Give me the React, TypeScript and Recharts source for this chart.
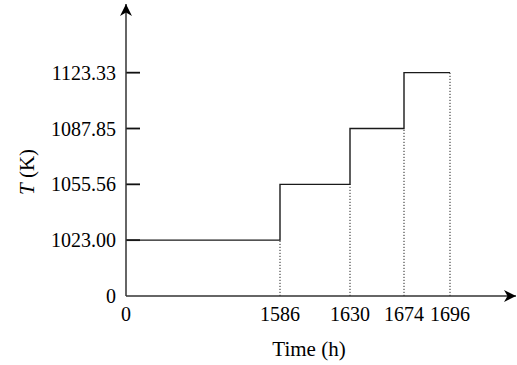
import { LineChart, Line, XAxis, YAxis, ReferenceLine } from 'recharts'

// step times (h) and the temperature held on each step (K)
const stepTimes = [0, 1586, 1630, 1674, 1696]
const stepTemperatures = [1023.0, 1055.56, 1087.85, 1123.33]

// the source figure is schematic: time ticks are not drawn to scale,
// so each time gets its own slot along the axis
const timeSlots = [0, 154, 224, 278, 324]
const X_MAX = 390
const INNER_TICK = 14 // inward y tick length, in slot units

const FONT = '"Liberation Serif", "Times New Roman", serif'
const AXIS = '#333'

// level 0 is the axis origin, level i is the i-th temperature
const steps = timeSlots.map((slot, i) => ({
  slot,
  time: stepTimes[i],
  level: Math.min(i + 1, stepTemperatures.length),
}))

const yLevels = [0, ...stepTemperatures.map((_, i) => i + 1)]
const yLabel = (v: number) => (v === 0 ? '0' : stepTemperatures[v - 1].toFixed(2))
const xLabel = (v: number) => String(stepTimes[timeSlots.indexOf(v)] ?? '')

export default function App() {
  return (
    <div style={{ position: 'absolute', left: 0, top: 0, background: '#fff' }}>
      <LineChart
        width={517}
        height={365}
        data={steps}
        margin={{ top: 4, right: 1, bottom: 0, left: 0 }}
        style={{ fontFamily: FONT }}
      >
        <defs>
          <marker
            id="arrowHead"
            viewBox="0 0 12 12"
            refX="12"
            refY="6"
            markerWidth="12"
            markerHeight="12"
            markerUnits="userSpaceOnUse"
            orient="auto-start-reverse"
          >
            <path d="M0,0 L12,6 L0,12 L3.5,6 z" fill="#000" />
          </marker>
        </defs>
        <XAxis
          type="number"
          dataKey="slot"
          domain={[0, X_MAX]}
          ticks={timeSlots}
          tickFormatter={xLabel}
          height={69}
          tickLine={false}
          tickSize={0}
          tickMargin={11}
          axisLine={{ stroke: AXIS, strokeWidth: 1.5, markerEnd: 'url(#arrowHead)' }}
          tick={{ fontSize: 20, fill: '#000', fontFamily: FONT }}
          label={{
            content: ({ viewBox }: any) => (
              <text
                x={viewBox.x + 183}
                y={viewBox.y + 60}
                textAnchor="middle"
                fontSize={21}
                fontFamily={FONT}
                fill="#000"
              >
                Time (h)
              </text>
            ),
          }}
        />
        <YAxis
          type="number"
          domain={[0, 5.23]}
          ticks={yLevels}
          tickFormatter={yLabel}
          width={126}
          tickSize={0}
          tickMargin={10}
          tickLine={false}
          axisLine={{ stroke: AXIS, strokeWidth: 1.5, markerStart: 'url(#arrowHead)' }}
          tick={{ fontSize: 20, fill: '#000', fontFamily: FONT }}
          label={{
            content: ({ viewBox }: any) => {
              const cx = viewBox.x + 27
              const cy = viewBox.y + viewBox.height / 2 + 22
              return (
                <text
                  x={cx}
                  y={cy}
                  transform={`rotate(-90 ${cx} ${cy})`}
                  textAnchor="middle"
                  dominantBaseline="central"
                  fontSize={21}
                  fontFamily={FONT}
                  fill="#000"
                >
                  <tspan fontStyle="italic">T</tspan> (K)
                </text>
              )
            },
          }}
        />
        {steps.slice(1).map((s, i) => (
          <ReferenceLine
            key={s.time}
            segment={[
              { x: s.slot, y: 0 },
              { x: s.slot, y: i + 1 },
            ]}
            stroke="#222"
            strokeWidth={1}
            strokeDasharray="1.2 1.8"
          />
        ))}
        {yLevels.slice(1).map((lvl) => (
          <ReferenceLine
            key={`ytick-${lvl}`}
            segment={[
              { x: 0, y: lvl },
              { x: INNER_TICK, y: lvl },
            ]}
            stroke="#111"
            strokeWidth={1.8}
            ifOverflow="visible"
          />
        ))}
        <Line
          type="stepAfter"
          dataKey="level"
          stroke="#1a1a1a"
          strokeWidth={1.4}
          dot={false}
          isAnimationActive={false}
        />
      </LineChart>
    </div>
  )
}
